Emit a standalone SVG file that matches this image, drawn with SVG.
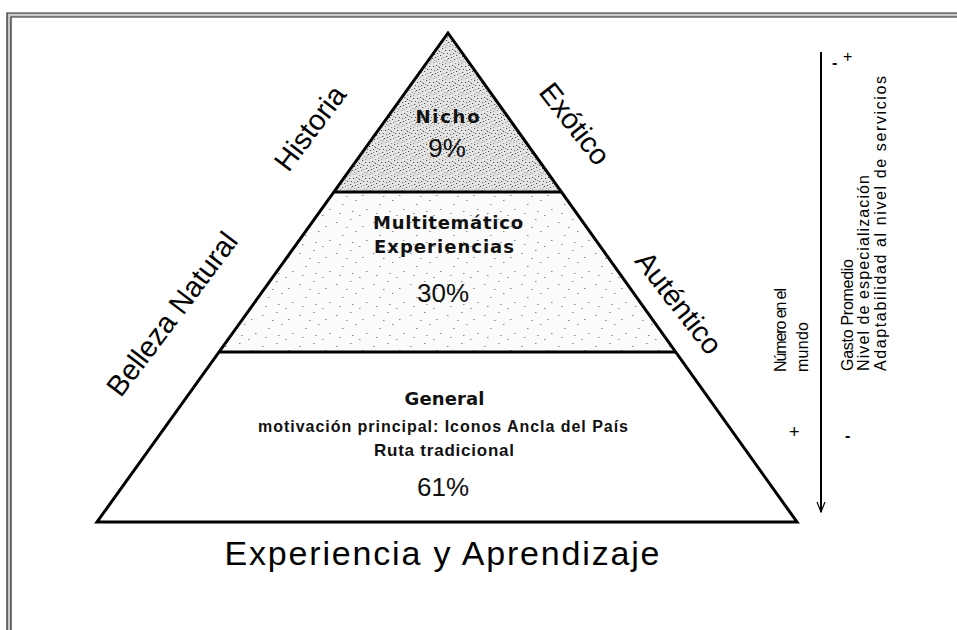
<svg xmlns="http://www.w3.org/2000/svg" width="957" height="630" viewBox="0 0 957 630">
<style>
.side{font-family:"Liberation Sans",Arial,sans-serif;font-size:29px;fill:#000;text-anchor:middle}
.title{font-family:"Liberation Sans",Arial,sans-serif;font-size:34px;fill:#000;text-anchor:middle}
.bold{font-family:"DejaVu Sans","Liberation Sans",Arial,sans-serif;font-weight:bold;font-size:18px;fill:#111;text-anchor:middle}
.bold2{font-family:"Liberation Sans",Arial,sans-serif;font-weight:bold;font-size:16px;fill:#111;text-anchor:middle}
.bold3{font-family:"Liberation Sans",Arial,sans-serif;font-weight:bold;font-size:17px;fill:#111;text-anchor:middle}
.pct{font-family:"Liberation Sans",Arial,sans-serif;font-size:26px;fill:#111;text-anchor:middle}
.vert{font-family:"Liberation Sans",Arial,sans-serif;font-size:16px;fill:#000}
.sign{font-family:"Liberation Sans",Arial,sans-serif;fill:#000}
.edge{fill:none;stroke:#000;stroke-width:3;stroke-linejoin:miter}
</style>
<defs>
<pattern id="dense" width="16" height="16" patternUnits="userSpaceOnUse">
<rect width="16" height="16" fill="#e4e4e4"/>
<g fill="#555">
<rect x="1" y="2" width="1.2" height="1"/><rect x="4" y="1" width="1.2" height="1"/><rect x="7" y="3" width="1.2" height="1"/><rect x="10" y="0" width="1.2" height="1"/><rect x="13" y="2" width="1.2" height="1"/><rect x="15" y="5" width="1" height="1"/><rect x="2" y="6" width="1.2" height="1"/><rect x="5" y="5" width="1.2" height="1"/><rect x="8" y="7" width="1.2" height="1"/><rect x="11" y="5" width="1.2" height="1"/><rect x="14" y="8" width="1.2" height="1"/><rect x="0" y="10" width="1.2" height="1"/><rect x="3" y="9" width="1.2" height="1"/><rect x="6" y="11" width="1.2" height="1"/>
</g>
<g fill="#999">
<rect x="9" y="10" width="1.2" height="1"/><rect x="12" y="12" width="1.2" height="1"/><rect x="15" y="11" width="1" height="1"/><rect x="1" y="14" width="1.2" height="1"/><rect x="4" y="13" width="1.2" height="1"/><rect x="7" y="15" width="1.2" height="1"/><rect x="10" y="14" width="1.2" height="1"/><rect x="13" y="15" width="1.2" height="1"/><rect x="2" y="12" width="1.2" height="1"/><rect x="11" y="9" width="1.2" height="1"/><rect x="6" y="2" width="1.2" height="1"/><rect x="9" y="4" width="1.2" height="1"/><rect x="14" y="13" width="1.2" height="1"/><rect x="5" y="8" width="1.2" height="1"/>
</g>
</pattern>
<pattern id="sparse" width="37" height="31" patternUnits="userSpaceOnUse">
<rect width="37" height="31" fill="#fbfbfb"/>
<g fill="#888">
<rect x="3" y="5" width="1.5" height="1"/><rect x="17" y="2" width="1.5" height="1"/><rect x="29" y="9" width="1.5" height="1"/><rect x="9" y="18" width="1.5" height="1"/><rect x="22" y="14" width="1.5" height="1"/><rect x="33" y="23" width="1.5" height="1"/><rect x="6" y="27" width="1.5" height="1"/><rect x="19" y="25" width="1.5" height="1"/><rect x="13" y="10" width="1.5" height="1"/><rect x="26" y="29" width="1.5" height="1"/>
</g>
</pattern>
<marker id="arr" viewBox="0 0 12 10" refX="11" refY="5" markerWidth="12" markerHeight="10" markerUnits="userSpaceOnUse" orient="auto">
<path d="M1,1 L11,5 L1,9" fill="none" stroke="#000" stroke-width="1.2"/>
</marker>
</defs>

<rect width="957" height="630" fill="#fff"/>

<g id="frame">
<rect x="7" y="13" width="950" height="4" fill="#c8c8c8"/>
<rect x="7" y="13" width="4" height="617" fill="#c8c8c8"/>
<path d="M7,630 V13 H957" fill="none" stroke="#222" stroke-width="1.2"/>
<path d="M11,630 V17 H957" fill="none" stroke="#222" stroke-width="1.2"/>
</g>

<g id="nicho">
<polygon points="448,33 334,192 561,192" fill="url(#dense)"/>
<text class="bold" x="447.5" y="122.5" textLength="64">Nicho</text>
<text class="pct" x="447" y="157">9%</text>
</g>

<g id="multitematico">
<polygon points="334,192 561,192 675,352 220,352" fill="url(#sparse)"/>
<text class="bold" x="448" y="229" textLength="150">Multitemático</text>
<text class="bold" x="444" y="253" textLength="140">Experiencias</text>
<text class="pct" x="443" y="302">30%</text>
</g>

<g id="general">
<polygon points="220,352 675,352 797,522 97,522" fill="#fff"/>
<text class="bold" x="444.5" y="405" textLength="80">General</text>
<text class="bold2" x="443" y="432" textLength="370">motivación principal: Iconos Ancla del País</text>
<text class="bold3" x="444" y="456" textLength="140">Ruta tradicional</text>
<text class="pct" x="443" y="496">61%</text>
</g>

<g id="connectors">
<polygon class="edge" points="448,33 797,522 97,522"/>
<line class="edge" x1="334" y1="192" x2="561" y2="192"/>
<line class="edge" x1="220" y1="352" x2="675" y2="352"/>
<line x1="821" y1="52" x2="821" y2="512" stroke="#000" stroke-width="2" marker-end="url(#arr)"/>
</g>

<g id="side-labels">
<text class="side" transform="translate(318,134) rotate(-53)">Historia</text>
<text class="side" transform="translate(180,320) rotate(-53)">Belleza Natural</text>
<text class="side" transform="translate(567,130) rotate(52)">Exótico</text>
<text class="side" transform="translate(671,309) rotate(52)">Auténtico</text>
<text class="title" x="442" y="565" textLength="435">Experiencia y Aprendizaje</text>
</g>

<g id="scale-labels">
<text class="vert" transform="translate(786,372) rotate(-90)" textLength="84">Número en el</text>
<text class="vert" transform="translate(808,372) rotate(-90)" textLength="50">mundo</text>
<text class="vert" transform="translate(853,371) rotate(-90)" textLength="112">Gasto Promedio</text>
<text class="vert" transform="translate(869,371) rotate(-90)" textLength="196">Nivel de especialización</text>
<text class="vert" transform="translate(886,371) rotate(-90)" textLength="295">Adaptabilidad al nivel de servicios</text>
<text class="sign" font-size="16" font-weight="bold" x="832" y="68">-</text>
<text class="sign" font-size="16" x="843" y="62">+</text>
<text class="sign" font-size="18" x="789" y="438">+</text>
<text class="sign" font-size="16" font-weight="bold" x="845" y="441">-</text>
</g>
</svg>
